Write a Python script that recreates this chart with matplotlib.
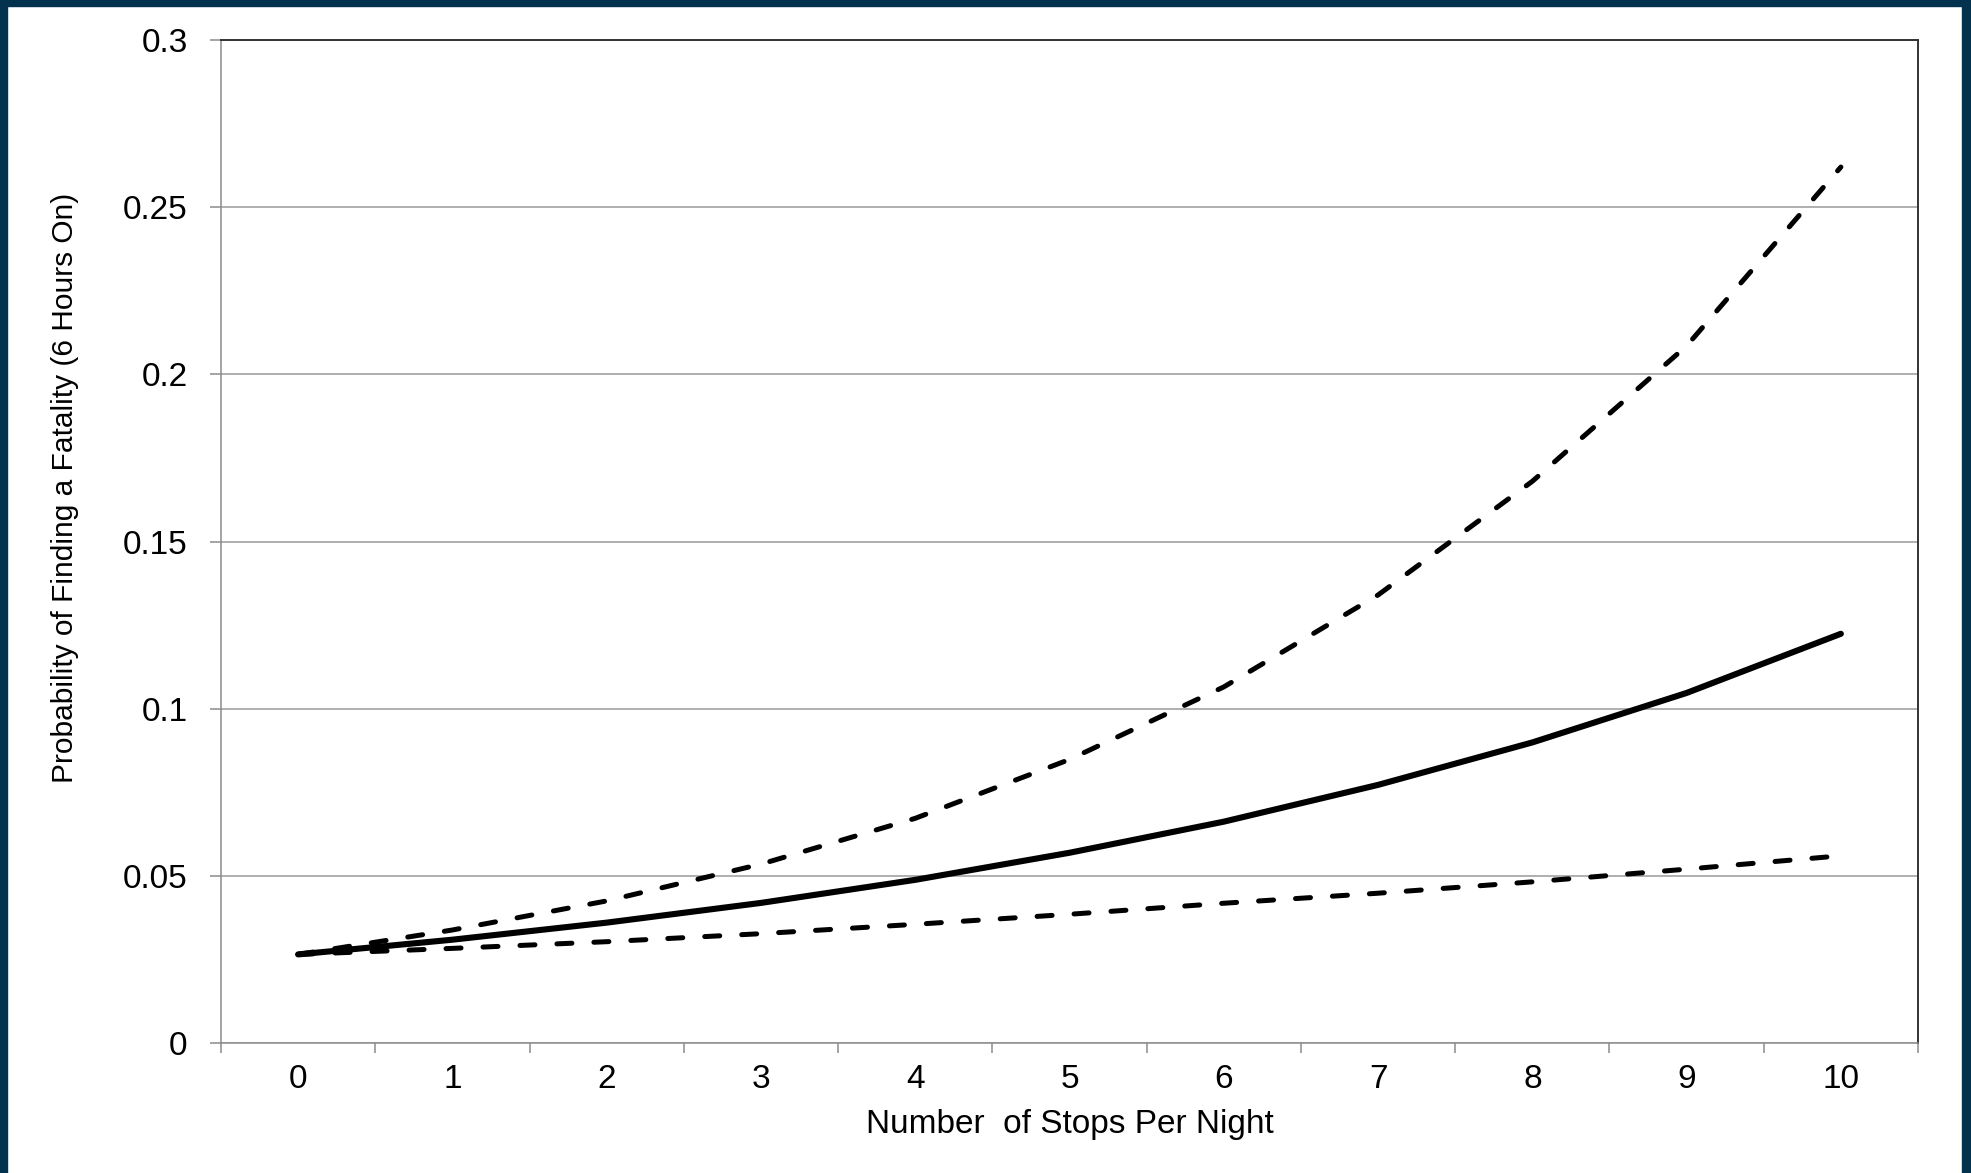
import matplotlib
matplotlib.use("Agg")
import matplotlib.pyplot as plt
from matplotlib.patches import Rectangle
from matplotlib.ticker import MultipleLocator

# stops per night (categories) and probability curves
stops = [0, 1, 2, 3, 4, 5, 6, 7, 8, 9, 10]
prob_mean = [0.0265, 0.0309, 0.036, 0.0419, 0.0488, 0.0569, 0.0662, 0.0772, 0.0899, 0.1047, 0.1224]
prob_upper = [0.0265, 0.0338, 0.0425, 0.0535, 0.0672, 0.0848, 0.1065, 0.134, 0.168, 0.2085, 0.262]
prob_lower = [0.0265, 0.0283, 0.0303, 0.0327, 0.0355, 0.0385, 0.0418, 0.0448, 0.0482, 0.052, 0.056]
y_ticks = [0, 0.05, 0.1, 0.15, 0.2, 0.25, 0.3]
y_tick_labels = ["0", "0.05", "0.1", "0.15", "0.2", "0.25", "0.3"]

plt.rcParams["font.family"] = ["Liberation Sans", "DejaVu Sans"]

W, H = 1971, 1173
fig = plt.figure(figsize=(W / 100, H / 100), dpi=100)
fig.patch.set_facecolor("white")

# navy frame around the slide
navy = "#03324f"
fig.add_artist(Rectangle((0, 1 - 6 / H), 1, 6 / H, transform=fig.transFigure, color=navy, zorder=0))
fig.add_artist(Rectangle((0, 0), 7 / W, 1, transform=fig.transFigure, color=navy, zorder=0))
fig.add_artist(Rectangle((1 - 9 / W, 0), 9 / W, 1, transform=fig.transFigure, color=navy, zorder=0))

left, right, top, bottom = 221, 1918, 40, 1043
ax = fig.add_axes([left / W, 1 - bottom / H, (right - left) / W, (bottom - top) / H])

ax.plot(stops, prob_upper, color="black", lw=3.6, dashes=(3.0, 4.4), dash_capstyle="round", zorder=3)
ax.plot(stops, prob_lower, color="black", lw=3.6, dashes=(3.0, 4.4), dash_capstyle="round", zorder=3)
ax.plot(stops, prob_mean, color="black", lw=4.4, solid_capstyle="round", zorder=4)

ax.set_xlim(-0.5, 10.5)
ax.set_ylim(0, 0.3)
ax.set_yticks(y_ticks)
ax.set_yticklabels(y_tick_labels)
ax.set_xticks(stops)
ax.set_xticklabels([str(s) for s in stops])
ax.xaxis.set_minor_locator(MultipleLocator(1, offset=0.5))

ax.yaxis.grid(True, color="#9a9a9a", lw=1.1)
ax.set_axisbelow(True)

ax.tick_params(axis="y", direction="out", length=8, width=1.1, color="#8c8c8c",
               labelsize=24, pad=16)
ax.tick_params(axis="x", which="major", length=0, labelsize=24, pad=15)
ax.tick_params(axis="x", which="minor", direction="out", length=7, width=1.1, color="#8c8c8c")

for side in ["left", "bottom"]:
    ax.spines[side].set_color("#8c8c8c")
    ax.spines[side].set_linewidth(1.1)
for side in ["top", "right"]:
    ax.spines[side].set_color("#333333")
    ax.spines[side].set_linewidth(1.4)

fig.text(1070 / W, 1 - 1124 / H, "Number  of Stops Per Night", ha="center", va="center", fontsize=24)
fig.text(65 / W, 1 - 488 / H, "Probability of Finding a Fatality (6 Hours On)",
         rotation=90, ha="center", va="center", fontsize=21.5)

fig.savefig("out.png", dpi=100)
